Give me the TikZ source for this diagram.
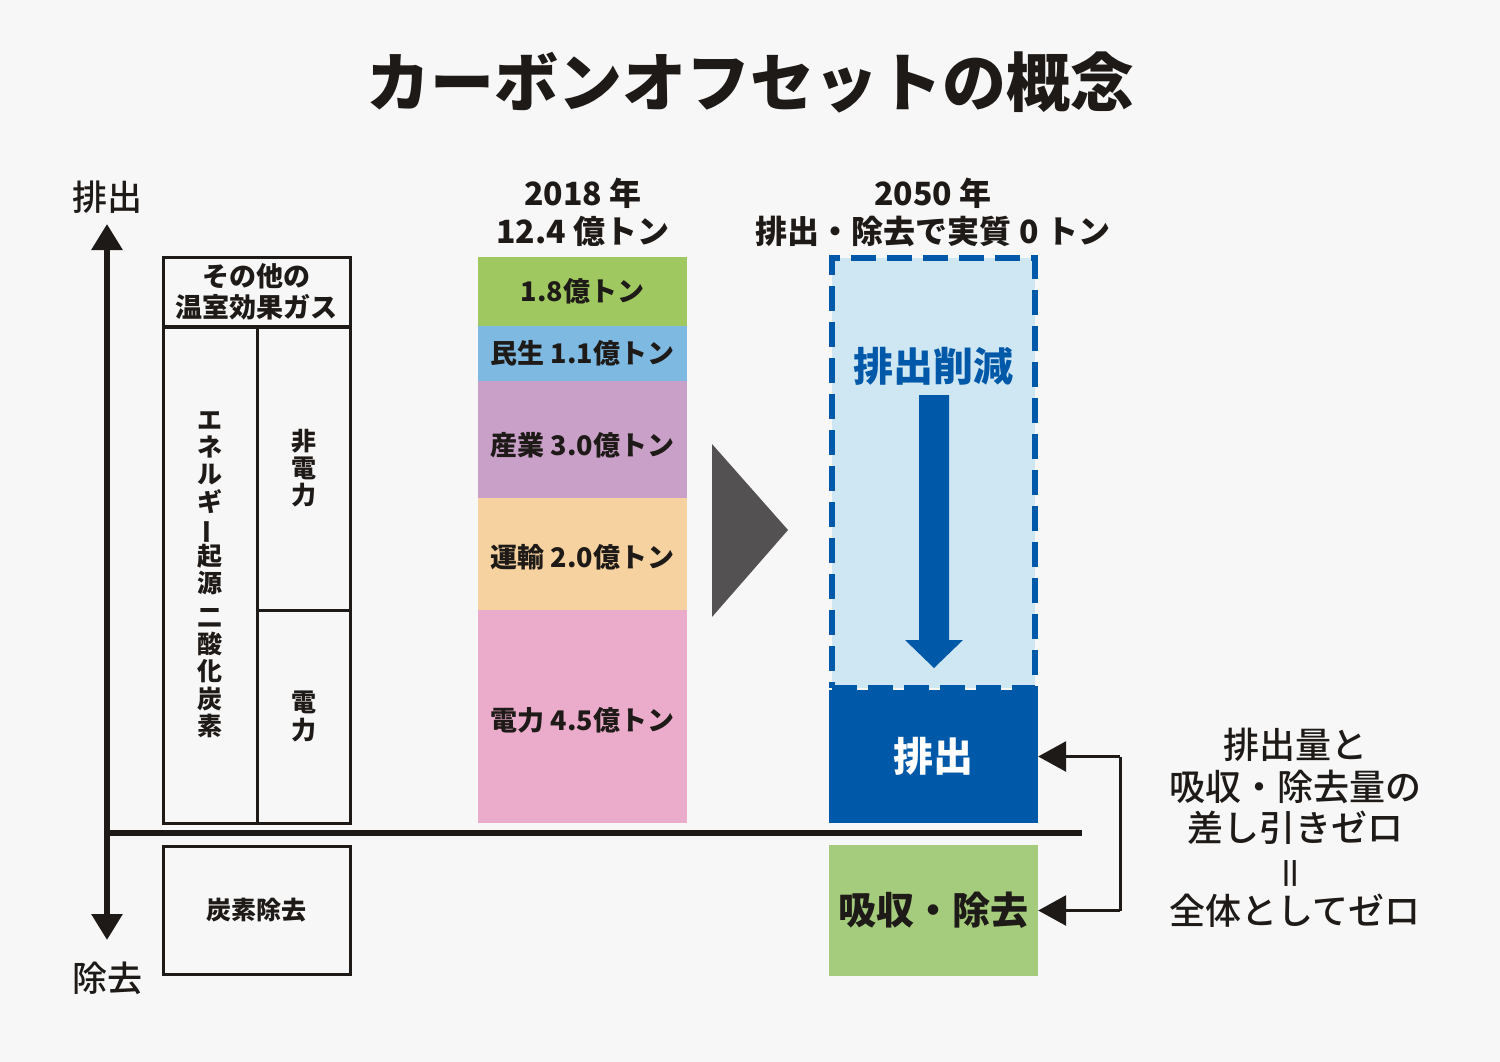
\documentclass[tikz,border=0pt]{standalone}
\usepackage{fontspec}
\usepackage{graphicx}
\setmainfont{Noto Sans CJK JP}
\newfontfamily\jpblack{Noto Sans CJK JP Black}
\newfontfamily\jpmed{Noto Sans CJK JP Medium}
\usetikzlibrary{arrows.meta}
\definecolor{bg}{HTML}{F7F7F7}
\definecolor{ink}{HTML}{1E1A18}
\definecolor{cgreen}{HTML}{A0C860}
\definecolor{cblue}{HTML}{7DB9E1}
\definecolor{cpurple}{HTML}{C9A0C7}
\definecolor{corange}{HTML}{F5D2A0}
\definecolor{cpink}{HTML}{EBACCB}
\definecolor{cabs}{HTML}{A5CC7D}
\definecolor{dblue}{HTML}{0059A8}
\definecolor{lblue}{HTML}{CFE6F3}
\definecolor{tri}{HTML}{545152}
\newcommand{\jsz}[2]{\fontsize{#1}{#2}\selectfont}
\newcommand{\vchoon}{\smash{\rotatebox[origin=c]{90}{ー}}}
\newcommand{\veq}{\smash{\rotatebox[origin=c]{90}{＝}}}
\tikzset{
  lbox/.style={draw=ink, line width=3pt, inner sep=0pt, align=center, text=ink},
  bar/.style={inner sep=0pt, minimum width=209pt, text=ink, font=\bfseries\jsz{27}{27}},
  hdr/.style={align=center, text=ink, font=\bfseries\jsz{32}{38}},
  conn/.style={draw=ink, line width=3pt},
  arr/.style={conn, -{Triangle[length=28pt,width=30pt]}},
}
\begin{document}
\begin{tikzpicture}[x=1pt,y=-1pt]
\useasboundingbox[fill=bg] (0,0) rectangle (1500,1062);

% title
\node[text=ink, font=\jpblack\jsz{64}{64}] (title) at (750,82) {カーボンオフセットの概念};

% axis
\node[text=ink, font=\jpmed\jsz{35}{35}] (emitlbl) at (107,197) {排出};
\node[text=ink, font=\jpmed\jsz{35}{35}] (remlbl) at (107,978) {除去};
\coordinate (axtop) at (107,224);
\coordinate (axbot) at (107,940);
\draw[draw=ink, line width=6pt, {Triangle[length=26pt,width=30pt]}-{Triangle[length=26pt,width=30pt]}] (axtop) -- (axbot);
\coordinate (base0) at (104,833);
\coordinate (base1) at (1082,833);
\draw[draw=ink, line width=6pt] (base0) -- (base1);

% left boxes
\node[lbox, minimum width=187pt, minimum height=70pt, font=\bfseries\jsz{27}{31}] (other) at (256.5,292) {その他の\\温室効果ガス};
\node[lbox, minimum width=94pt, minimum height=497pt, font=\bfseries\jsz{25}{27.3}] (energy) at (210,574.5)
  {エ\\ネ\\ル\\ギ\\\vchoon\\起\\源\\[6pt]二\\酸\\化\\炭\\素};
\node[lbox, minimum width=93pt, minimum height=284pt, font=\bfseries\jsz{25}{27.3}] (nonpow) at (303.5,468) {非\\電\\力};
\node[lbox, minimum width=93pt, minimum height=213pt, font=\bfseries\jsz{25}{27.3}] (pow) at (303.5,716.5) {電\\力};
\node[lbox, minimum width=187pt, minimum height=128pt, font=\bfseries\jsz{25}{25}] (cremove) at (256.5,910) {炭素除去};

% 2018 bars
\node[hdr] (h2018) at (583,212) {2018 年\\12.4 億トン};
\node[bar, fill=cgreen, minimum height=69pt] (b1) at (582.5,291.5) {1.8億トン};
\node[bar, fill=cblue, minimum height=55pt] (b2) at (582.5,353.5) {民生 1.1億トン};
\node[bar, fill=cpurple, minimum height=117pt, text height=34pt, text depth=3pt] (b3) at (582.5,439.5) {産業 3.0億トン};
\node[bar, fill=corange, minimum height=112pt, text height=30pt, text depth=3pt] (b4) at (582.5,554) {運輸 2.0億トン};
\node[bar, fill=cpink, minimum height=213pt, text height=31pt, text depth=3pt] (b5) at (582.5,716.5) {電力 4.5億トン};

% big triangle
\fill[tri] (712,444) -- (788,530) -- (712,617) -- cycle;

% 2050 column
\node[hdr] (h2050) at (933,212) {2050 年\\排出・除去で実質 0 トン};
\node[draw=dblue, fill=lblue, line width=6pt, dash pattern=on 25pt off 11pt,
      minimum width=203pt, minimum height=430pt, inner sep=0pt] (reduce) at (933.5,473) {};
\node[text=dblue, font=\bfseries\jsz{40}{40}] (reducelbl) at (933.5,366) {排出削減};
\fill[dblue] (919,395) -- (949,395) -- (949,640) -- (963,640) -- (934,668) -- (905,640) -- (919,640) -- cycle;
\node[fill=dblue, minimum width=209pt, minimum height=133pt, inner sep=0pt, text=white,
      font=\bfseries\jsz{40}{40}] (emit) at (933.5,756.5) {排出};
\node[fill=cabs, minimum width=209pt, minimum height=131pt, inner sep=0pt, text=ink,
      font=\bfseries\jsz{38}{38}] (absorb) at (933.5,910.5) {吸収・除去};

% bracket arrows
\coordinate (bx) at (1120,830);
\draw[conn] (emit.east -| bx) -- (absorb.east -| bx);
\draw[arr] (emit.east -| bx) -- (emit.east);
\draw[arr] (absorb.east -| bx) -- (absorb.east);

% right text
\node[align=center, text=ink, font=\jpmed\jsz{36}{41.5}] (note) at (1295,828)
  {排出量と\\吸収・除去量の\\差し引きゼロ\\\veq\\全体としてゼロ};
\end{tikzpicture}
\end{document}
